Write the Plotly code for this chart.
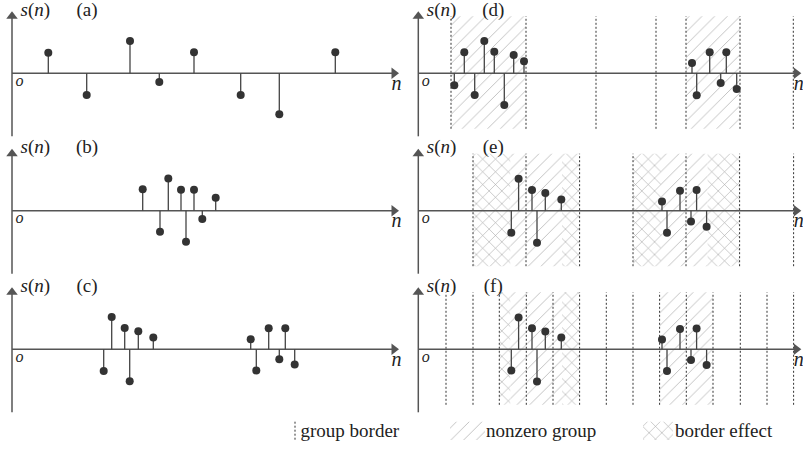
import plotly.graph_objects as go

FONT = "Liberation Serif, DejaVu Serif, serif"
W, H = 803, 452
AXC = "#555555"
DOTC = "#333333"

# ---------------- data (n positions, s(n) amplitudes) ----------------
a_n = [36.3, 74.7, 118, 147.3, 182, 228.7, 267.3, 323.3]
a_s = [20.6, -21.7, 32.3, -8.7, 21, -21.7, -41, 21]

b_n = [130.7, 148, 156.3, 169, 174, 182, 190.3, 203.7]
b_s = [21.4, -21, 32.3, 21, -31, 21, -8.3, 13]

c_n = [91.7, 99.7, 112.7, 117.7, 126.3, 141.3, 238.7, 244.3, 256.7, 267.3, 273.3, 282.7]
c_s = [-21.7, 32.3, 21.3, -32, 18, 11.7, 10, -21.3, 21, -10, 21, -15.3]

d_n = [36, 46, 56.4, 66, 76, 86, 95.4, 105.7, 273.7, 278.4, 291.4, 302.4, 308, 318.4]
d_s = [-12, 21, -21.7, 32.3, 21.6, -31.7, 18.3, 12, 10.3, -22, 21, -9.7, 21, -15.7]

e_n = [93, 100.3, 113.7, 118.7, 127, 143, 243.7, 248.7, 261.7, 272.7, 278.3, 288.3]
e_s = [-22, 32, 20.7, -32, 17.7, 11.3, 9.3, -22, 20, -10.7, 20.7, -16]

f_n = [93, 100.3, 113.7, 118.7, 127, 143, 243.7, 248.7, 261.7, 272.7, 278.3, 288.3]
f_s = [-21.3, 31.7, 21, -32.3, 17.7, 11.7, 9.7, -21.7, 20.3, -10.7, 20.7, -15.7]

# group borders (n positions)
d_borders = [32.7, 107.7, 177.7, 237.7, 267.7, 321.7, 375]
e_borders = [54.7, 107.7, 161.3, 214.7, 267.7, 321.3, 375.3]
f_borders = [27.7, 54.7, 81, 108, 134.7, 161.3, 188, 214.7, 241.3, 268, 294.7, 322, 348.7, 375.3]

# nonzero-group spans and border-effect spans
d_nonzero = [(32.7, 107.7), (267.7, 321.7)]
d_effect = []
e_nonzero = [(92, 143.7), (242.7, 289.3)]
e_effect = [(54.7, 92), (143.7, 161.3), (214.7, 242.7), (289.3, 321.3)]
f_nonzero = [(92, 143.7), (241.3, 294.7)]
f_effect = [(81, 92), (143.7, 161.3)]

panel_labels = ["(a)", "(b)", "(c)", "(d)", "(e)", "(f)"]
legend_labels = ["group border", "nonzero group", "border effect"]

panels = [
    dict(n=a_n, s=a_s, borders=[], nz=[], be=[], col=0, row=0),
    dict(n=b_n, s=b_s, borders=[], nz=[], be=[], col=0, row=1),
    dict(n=c_n, s=c_s, borders=[], nz=[], be=[], col=0, row=2),
    dict(n=d_n, s=d_s, borders=d_borders, nz=d_nonzero, be=d_effect, col=1, row=0),
    dict(n=e_n, s=e_s, borders=e_borders, nz=e_nonzero, be=e_effect, col=1, row=1),
    dict(n=f_n, s=f_s, borders=f_borders, nz=f_nonzero, be=f_effect, col=1, row=2),
]

# ---------------- layout geometry ----------------
col_px = [(0, 400, 12.0), (400, 803, 418.3)]          # left, right, origin x
row_px = [(0, 140, 73.3), (140, 280, 210.7), (280, 420, 349.3)]  # top, bottom, origin y
Y_TOP, Y_BOT = 61.0, -63.0
X_TIP = [386.0, 382.0]
B_TOP, B_BOT = 57.0, -55.5

HATCH = dict(shape="/", fgcolor="#7a7a7a", bgcolor="white", size=9, solidity=0.1)
CROSS = dict(shape="x", fgcolor="#444444", bgcolor="white", size=9, solidity=0.12)

fig = go.Figure()
layout = dict(width=W, height=H, margin=dict(l=0, r=0, t=0, b=0),
              paper_bgcolor="white", plot_bgcolor="rgba(0,0,0,0)",
              showlegend=False, barmode="overlay",
              font=dict(family=FONT, size=19, color="#222"))


def text_trace(xs, ys, texts, pos, size, xa, ya):
    return go.Scatter(x=xs, y=ys, text=texts, mode="text", textposition=pos,
                      textfont=dict(family=FONT, size=size, color="#222"),
                      xaxis=xa, yaxis=ya, hoverinfo="skip", cliponaxis=False)


for i, p in enumerate(panels):
    k = i + 1
    xa, ya = ("x%d" % k if k > 1 else "x"), ("y%d" % k if k > 1 else "y")
    L, R, OX = col_px[p["col"]]
    T, B, OY = row_px[p["row"]]
    layout["xaxis%d" % k if k > 1 else "xaxis"] = dict(
        domain=[L / W, R / W], range=[L - OX, R - OX], visible=False,
        anchor=ya, fixedrange=True)
    layout["yaxis%d" % k if k > 1 else "yaxis"] = dict(
        domain=[1 - B / H, 1 - T / H], range=[OY - B, OY - T], visible=False,
        anchor=xa, fixedrange=True)

    for spans, pat in ((p["nz"], HATCH), (p["be"], CROSS)):
        if spans:
            fig.add_trace(go.Bar(
                x=[(a + b) / 2 for a, b in spans], width=[b - a for a, b in spans],
                y=[B_TOP - B_BOT] * len(spans), base=[B_BOT] * len(spans),
                marker=dict(color="white", line_width=0, pattern=pat),
                xaxis=xa, yaxis=ya, hoverinfo="skip"))
    if p["borders"]:
        bx, by = [], []
        for b in p["borders"]:
            bx += [b, b, None]
            by += [B_BOT, B_TOP, None]
        fig.add_trace(go.Scatter(x=bx, y=by, mode="lines",
                                 line=dict(color=DOTC, width=1, dash="2px,2px"),
                                 xaxis=xa, yaxis=ya, hoverinfo="skip"))
    tip = X_TIP[p["col"]]
    fig.add_trace(go.Scatter(x=[0, 0, None, 0, tip - 5], y=[Y_BOT, Y_TOP - 5, None, 0, 0],
                             mode="lines", line=dict(color=AXC, width=1.5),
                             xaxis=xa, yaxis=ya, hoverinfo="skip"))
    fig.add_trace(go.Scatter(x=[0], y=[Y_TOP - 4], mode="markers",
                             marker=dict(symbol="triangle-up", size=10, color=AXC),
                             xaxis=xa, yaxis=ya, hoverinfo="skip"))
    fig.add_trace(go.Scatter(x=[tip - 4], y=[0], mode="markers",
                             marker=dict(symbol="triangle-right", size=10, color=AXC),
                             xaxis=xa, yaxis=ya, hoverinfo="skip"))
    sx, sy = [], []
    for n, s in zip(p["n"], p["s"]):
        sx += [n, n, None]
        sy += [0, s, None]
    fig.add_trace(go.Scatter(x=sx, y=sy, mode="lines", line=dict(color="#444444", width=1.3),
                             xaxis=xa, yaxis=ya, hoverinfo="skip"))
    fig.add_trace(go.Scatter(x=p["n"], y=p["s"], mode="markers",
                             marker=dict(size=8, color=DOTC),
                             xaxis=xa, yaxis=ya, hoverinfo="skip"))
    fig.add_trace(text_trace([8.5], [62], ["<i>s</i>(<i>n</i>)"], "middle right", 19, xa, ya))
    fig.add_trace(text_trace([75], [62], [panel_labels[i]], "middle center", 19, xa, ya))
    fig.add_trace(text_trace([7.5], [-8.5], ["<i>o</i>"], "middle center", 16, xa, ya))
    fig.add_trace(text_trace([tip - 1.5], [-11.5], ["<i>n</i>"], "middle center", 20, xa, ya))

# ---------------- legend row ----------------
layout["xaxis7"] = dict(domain=[0, 1], range=[0, W], visible=False, anchor="y7", fixedrange=True)
layout["yaxis7"] = dict(domain=[0, 32 / H], range=[32, 0], visible=False, anchor="x7", fixedrange=True)
fig.add_trace(go.Scatter(x=[295, 295], y=[1.7, 20], mode="lines",
                         line=dict(color=DOTC, width=1, dash="2px,2px"),
                         xaxis="x7", yaxis="y7", hoverinfo="skip"))
fig.add_trace(go.Bar(x=[467.5], width=[35], y=[18.3], base=[1.7],
                     marker=dict(color="white", line_width=0, pattern=HATCH),
                     xaxis="x7", yaxis="y7", hoverinfo="skip"))
fig.add_trace(go.Bar(x=[658], width=[30], y=[18.3], base=[1.7],
                     marker=dict(color="white", line_width=0, pattern=CROSS),
                     xaxis="x7", yaxis="y7", hoverinfo="skip"))
fig.add_trace(text_trace([300.5, 486, 675], [12, 12, 12], legend_labels,
                         "middle right", 19, "x7", "y7"))

fig.update_layout(**layout)
fig.write_html("out.html")
